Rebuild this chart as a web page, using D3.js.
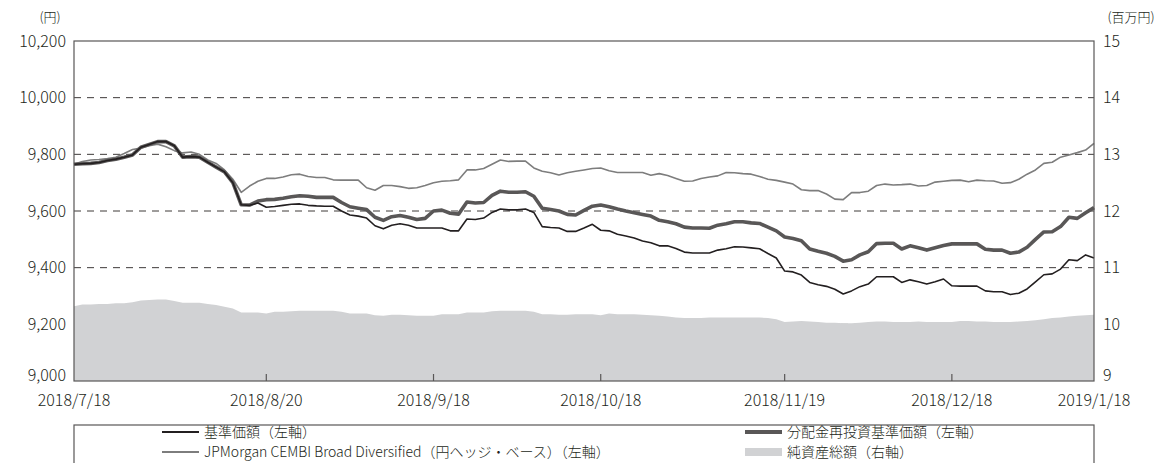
<!DOCTYPE html>
<html>
<head>
<meta charset="utf-8">
<script src="https://cdn.jsdelivr.net/npm/d3@7"></script>
<style>
  body { margin: 0; background: #fff; }
  svg text { font-family: "Noto Sans CJK JP", "Noto Sans", sans-serif; font-weight: 300; fill: #231f20; }
</style>
</head>
<body>
<div id="chart"></div>
<script>
// business-day index 0..122 (2018/7/18 - 2019/1/18)
const tickIdx = [0, 23, 43, 63, 85, 105, 122];
const tickLabels = ["2018/7/18", "2018/8/20", "2018/9/18", "2018/10/18", "2018/11/19", "2018/12/18", "2019/1/18"];
const leftTicks = [9000, 9200, 9400, 9600, 9800, 10000, 10200];
const rightTicks = [9, 10, 11, 12, 13, 14, 15];

// 基準価額 (left axis)
const nav = [9765,9767,9768,9771,9778,9783,9790,9798,9825,9835,9845,9845,9830,9790,9792,9790,9772,9755,9738,9700,
  9622,9620,9628,9613,9616,9620,9624,9625,9620,9618,9617,9617,9600,9586,9582,9575,9548,9537,9550,9555,
  9550,9540,9540,9540,9540,9530,9530,9572,9570,9575,9595,9607,9604,9604,9607,9595,9545,9542,9540,9528,
  9528,9540,9553,9532,9530,9518,9512,9505,9494,9488,9477,9477,9468,9455,9452,9452,9452,9462,9467,9474,
  9473,9470,9467,9450,9434,9388,9385,9374,9348,9340,9334,9324,9307,9318,9333,9342,9368,9368,9368,9348,
  9357,9350,9342,9350,9360,9336,9335,9335,9335,9318,9315,9315,9305,9310,9325,9350,9375,9378,9395,9428,
  9425,9445,9434];

// 分配金再投資基準価額 (left axis)
const navReinv = [9765,9767,9768,9771,9778,9783,9790,9798,9825,9835,9845,9845,9830,9790,9792,9790,9772,9755,9738,9700,
  9622,9621,9635,9640,9641,9645,9650,9654,9652,9648,9648,9648,9630,9615,9610,9605,9578,9567,9580,9584,
  9578,9570,9574,9600,9603,9592,9589,9632,9628,9630,9655,9670,9666,9666,9668,9652,9610,9605,9600,9588,
  9586,9602,9617,9621,9615,9607,9600,9594,9588,9582,9567,9562,9555,9543,9540,9540,9539,9550,9555,9562,
  9562,9558,9556,9543,9530,9508,9503,9495,9466,9458,9451,9440,9423,9428,9445,9456,9485,9486,9486,9466,
  9477,9470,9462,9470,9478,9484,9484,9484,9484,9465,9462,9462,9451,9455,9472,9500,9526,9527,9545,9578,
  9574,9594,9612];

// JPMorgan CEMBI Broad Diversified (円ヘッジ・ベース) (left axis)
const bench = [9765,9775,9780,9782,9785,9790,9803,9817,9822,9830,9836,9827,9813,9805,9808,9800,9780,9768,9745,9712,
  9666,9688,9705,9715,9715,9720,9728,9730,9722,9718,9718,9710,9709,9709,9709,9682,9673,9690,9690,9686,
  9680,9682,9690,9700,9705,9707,9710,9745,9745,9750,9765,9780,9775,9776,9776,9752,9740,9735,9727,9735,
  9740,9745,9750,9752,9742,9736,9736,9736,9736,9726,9732,9725,9715,9705,9706,9715,9720,9724,9736,9735,
  9732,9730,9722,9712,9708,9702,9695,9675,9672,9672,9660,9642,9640,9665,9665,9670,9690,9695,9692,9693,
  9695,9688,9690,9702,9705,9708,9709,9703,9709,9707,9706,9698,9700,9712,9730,9745,9768,9772,9790,9798,
  9806,9815,9839];

// 純資産総額 (right axis, 百万円)
const assets = [10.32,10.35,10.35,10.36,10.36,10.37,10.37,10.39,10.42,10.43,10.44,10.44,10.41,10.38,10.38,10.38,10.36,10.34,10.31,10.28,
  10.21,10.21,10.21,10.19,10.22,10.22,10.23,10.24,10.24,10.24,10.24,10.24,10.22,10.19,10.19,10.19,10.16,10.15,10.17,10.17,
  10.16,10.15,10.15,10.15,10.18,10.18,10.18,10.21,10.21,10.21,10.23,10.24,10.24,10.24,10.24,10.22,10.18,10.18,10.17,10.17,
  10.18,10.18,10.18,10.16,10.19,10.18,10.18,10.18,10.17,10.16,10.15,10.14,10.12,10.11,10.11,10.11,10.12,10.12,10.12,10.12,
  10.12,10.12,10.12,10.11,10.09,10.04,10.05,10.06,10.05,10.04,10.03,10.03,10.02,10.02,10.03,10.04,10.05,10.05,10.04,10.04,
  10.04,10.05,10.04,10.04,10.04,10.04,10.06,10.06,10.05,10.05,10.04,10.04,10.04,10.05,10.06,10.07,10.09,10.11,10.12,10.14,
  10.15,10.16,10.17];

const width = 1164, height = 463;
const margin = { top: 41, right: 70, bottom: 82, left: 74 };
const iw = width - margin.left - margin.right;
const ih = height - margin.top - margin.bottom;

const svg = d3.select("#chart").append("svg")
    .attr("width", width)
    .attr("height", height);

const g = svg.append("g").attr("transform", `translate(${margin.left},${margin.top})`);

const x = d3.scaleLinear().domain([0, nav.length - 1]).range([0, iw]);
const yL = d3.scaleLinear().domain([9000, 10200]).range([ih, 0]);
const yR = d3.scaleLinear().domain([9, 15]).range([ih, 0]);

// gridlines (drawn under area)
g.selectAll(".grid").data(leftTicks.filter(d => d > 9000 && d < 10200))
    .enter().append("line")
    .attr("class", "grid")
    .attr("x1", 0).attr("x2", iw)
    .attr("y1", d => yL(d)).attr("y2", d => yL(d))
    .attr("stroke", "#3e3a39")
    .attr("stroke-width", 1)
    .attr("stroke-dasharray", "7,6");

// net assets area
const area = d3.area()
    .x((d, i) => x(i))
    .y0(ih)
    .y1(d => yR(d));

g.append("path")
    .datum(assets)
    .attr("d", area)
    .attr("fill", "#d1d2d4");

// lines
const line = d3.line().x((d, i) => x(i)).y(d => yL(d));

g.append("path").datum(bench).attr("d", line)
    .attr("fill", "none").attr("stroke", "#7d7d7d").attr("stroke-width", 1.6)
    .attr("stroke-linejoin", "round");

g.append("path").datum(navReinv).attr("d", line)
    .attr("fill", "none").attr("stroke", "#595757").attr("stroke-width", 3.6)
    .attr("stroke-linejoin", "round");

g.append("path").datum(nav).attr("d", line)
    .attr("fill", "none").attr("stroke", "#231f20").attr("stroke-width", 1.6)
    .attr("stroke-linejoin", "round");

// frame
g.append("rect")
    .attr("x", 0).attr("y", 0)
    .attr("width", iw).attr("height", ih)
    .attr("fill", "none")
    .attr("stroke", "#595757")
    .attr("stroke-width", 1.2);

// x ticks (inward) and labels
g.selectAll(".xtick").data(tickIdx.slice(1, -1))
    .enter().append("line")
    .attr("x1", d => x(d)).attr("x2", d => x(d))
    .attr("y1", ih).attr("y2", ih - 7)
    .attr("stroke", "#595757").attr("stroke-width", 1.2);

g.selectAll(".xlab").data(tickIdx)
    .enter().append("text")
    .attr("x", d => x(d))
    .attr("y", ih + 25)
    .attr("text-anchor", "middle")
    .attr("font-size", 16)
    .text((d, i) => tickLabels[i]);

// left axis labels (bottom one lifted a little, as in the original)
g.selectAll(".ylab").data(leftTicks)
    .enter().append("text")
    .attr("x", -8)
    .attr("y", d => yL(d) - (d === 9000 ? 6 : 0))
    .attr("dy", "0.35em")
    .attr("text-anchor", "end")
    .attr("font-size", 16)
    .text(d => d3.format(",")(d));

// right axis labels
g.selectAll(".yrlab").data(rightTicks)
    .enter().append("text")
    .attr("x", iw + 9)
    .attr("y", d => yR(d) - (d === 9 ? 6 : 0))
    .attr("dy", "0.35em")
    .attr("text-anchor", "start")
    .attr("font-size", 16)
    .text(d => d);

// units
svg.append("text").attr("x", 50).attr("y", 22).attr("text-anchor", "middle")
    .attr("font-size", 13).text("(円)");
svg.append("text").attr("x", 1131).attr("y", 22).attr("text-anchor", "middle")
    .attr("font-size", 13).text("(百万円)");

// legend
const leg = svg.append("g");
leg.append("rect")
    .attr("x", margin.left).attr("y", 425)
    .attr("width", iw).attr("height", 60)
    .attr("fill", "none").attr("stroke", "#595757").attr("stroke-width", 1.2);

const legendItems = [
    { label: "基準価額（左軸）", type: "line", color: "#231f20", w: 2, x: 162, y: 432 },
    { label: "JPMorgan CEMBI Broad Diversified（円ヘッジ・ベース）（左軸）", type: "line", color: "#7d7d7d", w: 2, x: 162, y: 452 },
    { label: "分配金再投資基準価額（左軸）", type: "line", color: "#595757", w: 4, x: 745, y: 432 },
    { label: "純資産総額（右軸）", type: "area", color: "#d1d2d4", w: 8, x: 745, y: 452 }
];

legendItems.forEach(d => {
    if (d.type === "line") {
        leg.append("line")
            .attr("x1", d.x).attr("x2", d.x + 37)
            .attr("y1", d.y).attr("y2", d.y)
            .attr("stroke", d.color).attr("stroke-width", d.w);
    } else {
        leg.append("rect")
            .attr("x", d.x).attr("y", d.y - 4)
            .attr("width", 37).attr("height", 8)
            .attr("fill", d.color);
    }
    leg.append("text")
        .attr("x", d.x + 42).attr("y", d.y)
        .attr("dy", "0.35em")
        .attr("font-size", 14)
        .text(d.label);
});
</script>
</body>
</html>
